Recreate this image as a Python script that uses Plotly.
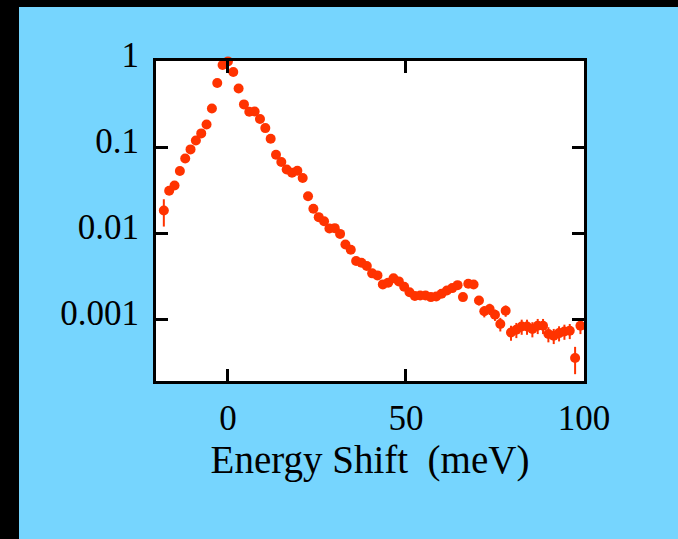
import plotly.graph_objects as go

# Energy shift (meV)
energy = [-18.0, -16.5, -15.0, -13.5, -12.0, -10.5, -9.0, -7.5, -6.0, -4.5,
          -3.0, -1.5, 0.0, 1.5, 3.0, 4.5, 6.0, 7.5, 9.0, 10.5,
          12.0, 13.5, 15.0, 16.5, 18.0, 19.5, 21.0, 22.5, 24.0, 25.5,
          27.0, 28.5, 30.0, 31.5, 33.0, 34.5, 36.0, 37.5, 39.0, 40.5,
          42.0, 43.5, 45.0, 46.5, 48.0, 49.5, 51.0, 52.5, 54.0, 55.5,
          57.0, 58.5, 60.0, 61.5, 63.0, 64.5, 66.0, 67.5, 69.0, 70.5,
          72.0, 73.5, 75.0, 76.5, 78.0, 79.5, 81.0, 82.5, 84.0, 85.5,
          87.0, 88.5, 90.0, 91.5, 93.0, 94.5, 96.0, 97.5, 99.0]

# Normalized intensity
intensity = [0.0183, 0.0310, 0.0357, 0.0526, 0.0737, 0.0938, 0.119, 0.144, 0.183, 0.281,
             0.555, 0.897, 0.989, 0.744, 0.480, 0.313, 0.257, 0.259, 0.212, 0.166,
             0.125, 0.0813, 0.0669, 0.0549, 0.0502, 0.0530, 0.0436, 0.0268, 0.0192, 0.0153,
             0.0137, 0.0113, 0.0114, 0.00977, 0.00735, 0.00640, 0.00474, 0.00452, 0.00413, 0.00340,
             0.00322, 0.00253, 0.00265, 0.00298, 0.00274, 0.00238, 0.00205, 0.00186, 0.00188, 0.00188,
             0.00180, 0.00183, 0.00197, 0.00215, 0.00229, 0.00248, 0.00180, 0.00257, 0.00252, 0.00164,
             0.00123, 0.00131, 0.00112, 0.000875, 0.00125, 0.000698, 0.000751, 0.000820, 0.000820, 0.000766,
             0.000836, 0.000836, 0.000670, 0.000640, 0.000687, 0.000717, 0.000731, 0.000352, 0.000836]

# Relative uncertainty of each point
rel_err = [0.35, 0.05, 0.05, 0.05, 0.05, 0.05, 0.05, 0.05, 0.05, 0.05,
           0.04, 0.03, 0.03, 0.03, 0.03, 0.03, 0.03, 0.03, 0.03, 0.03,
           0.03, 0.03, 0.03, 0.03, 0.03, 0.03, 0.03, 0.03, 0.03, 0.03,
           0.03, 0.06, 0.06, 0.06, 0.06, 0.06, 0.06, 0.06, 0.06, 0.06,
           0.06, 0.08, 0.08, 0.08, 0.08, 0.08, 0.08, 0.08, 0.08, 0.08,
           0.08, 0.08, 0.08, 0.08, 0.08, 0.08, 0.10, 0.08, 0.08, 0.12,
           0.15, 0.15, 0.15, 0.18, 0.15, 0.20, 0.20, 0.20, 0.20, 0.20,
           0.20, 0.20, 0.20, 0.20, 0.20, 0.20, 0.20, 0.35, 0.20]

x_tickvals = [0, 50, 100]
x_ticktext = ["0", "50", "100"]
y_tickvals = [1, 0.1, 0.01, 0.001]
y_ticktext = ["1", "0.1", "0.01", "0.001"]

err_plus = [v * e for v, e in zip(intensity, rel_err)]
err_minus = [v * e for v, e in zip(intensity, rel_err)]

RED = "#FF3300"
BLUE = "#76D5FE"
FONT = "Liberation Serif"

W, H = 678, 539
L, R, T, B = 156, 584, 61, 381

fig = go.Figure()
fig.add_trace(go.Scatter(
    x=energy, y=intensity, mode="markers",
    marker=dict(color=RED, size=10, line=dict(width=0)),
    error_y=dict(type="data", array=err_plus, arrayminus=err_minus,
                 color=RED, thickness=2, width=0),
    cliponaxis=False,
    showlegend=False,
))

pw, ph = R - L, B - T
def px2x(p):
    return (p - L) / pw
def py2y(p):
    return (B - p) / ph

shapes = [
    dict(type="rect", xref="paper", yref="paper", layer="above",
         x0=px2x(0), x1=px2x(19), y0=py2y(H), y1=py2y(0),
         fillcolor="black", line=dict(width=0)),
    dict(type="rect", xref="paper", yref="paper", layer="above",
         x0=px2x(0), x1=px2x(W), y0=py2y(7), y1=py2y(0),
         fillcolor="black", line=dict(width=0)),
]

fig.update_layout(
    width=W, height=H,
    margin=dict(l=L, r=W - R, t=T, b=H - B, pad=0),
    paper_bgcolor=BLUE, plot_bgcolor="white",
    font=dict(family=FONT, color="black", size=35),
    shapes=shapes,
    xaxis=dict(
        range=[-20.2, 100], tickvals=x_tickvals, ticktext=x_ticktext,
        ticks="inside", ticklen=12, tickwidth=3, tickcolor="black",
        showline=True, linewidth=3, linecolor="black", mirror="ticks",
        showgrid=False, zeroline=False,
        tickfont=dict(family=FONT, size=35),
        ticklabelstandoff=4,
        title=dict(text="Energy Shift  (meV)", font=dict(family=FONT, size=39), standoff=2),
    ),
    yaxis=dict(
        type="log", range=[-3.72, 0.0], tickvals=y_tickvals, ticktext=y_ticktext,
        ticks="inside", ticklen=12, tickwidth=3, tickcolor="black",
        showline=True, linewidth=3, linecolor="black", mirror="ticks",
        showgrid=False, zeroline=False,
        tickfont=dict(family=FONT, size=35),
        ticklabelstandoff=7, ticklabelshift=-6,
    ),
)

fig.write_html("out.html")
